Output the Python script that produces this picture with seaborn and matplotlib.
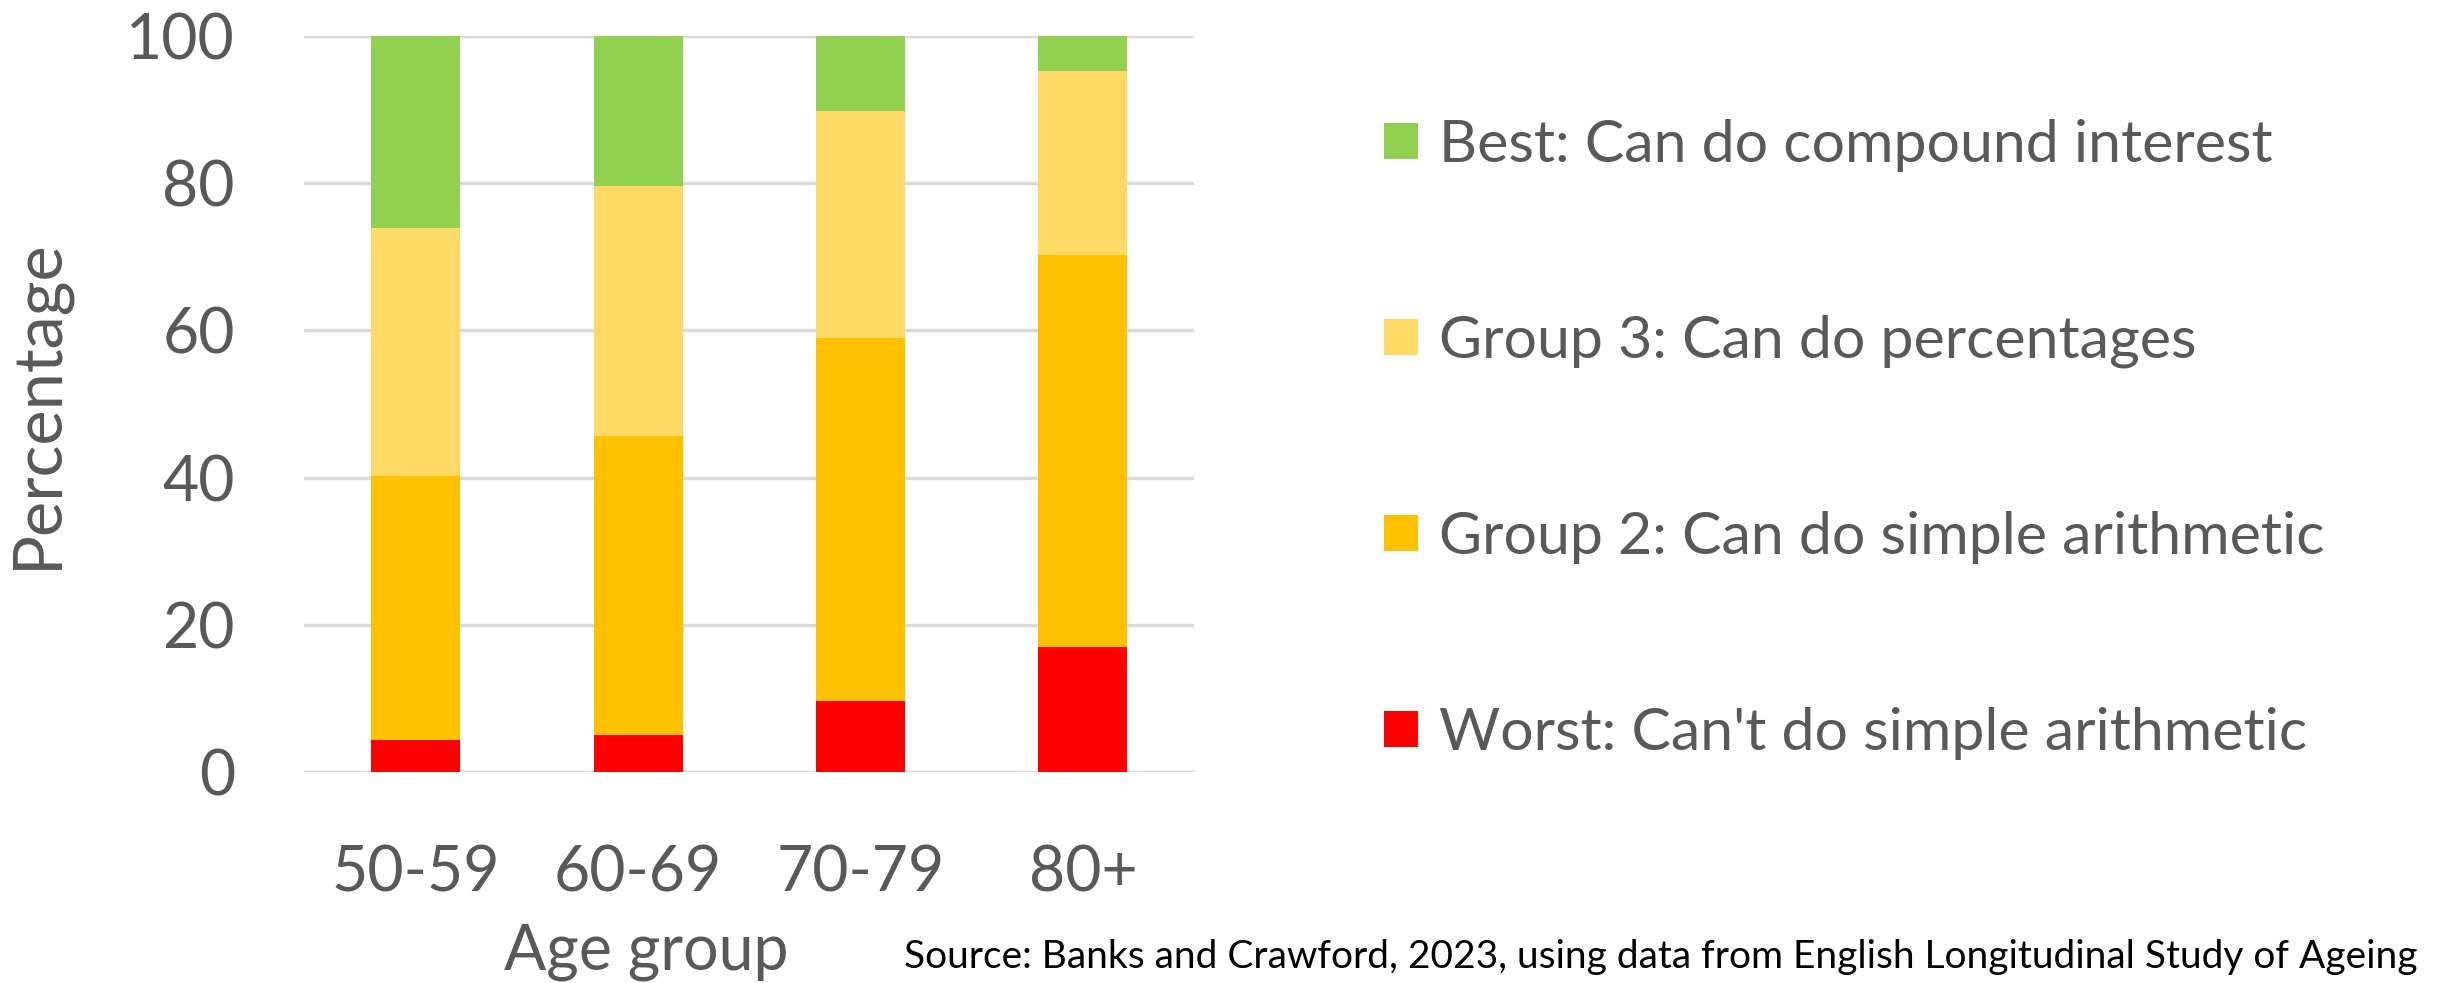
import numpy as np
import pandas as pd
import matplotlib
matplotlib.use("Agg")
import matplotlib.pyplot as plt
from matplotlib.patches import Patch
import seaborn as sns

# Numeracy level by age group (percent of each age group)
age_groups = ["50-59", "60-69", "70-79", "80+"]
worst = [4.3, 5.1, 9.6, 17.0]
group2 = [35.9, 40.6, 49.4, 53.2]
group3 = [33.7, 33.9, 30.8, 25.1]
best = [26.1, 20.4, 10.2, 4.7]

series_labels = [
    "Worst: Can't do simple arithmetic",
    "Group 2: Can do simple arithmetic",
    "Group 3: Can do percentages",
    "Best: Can do compound interest",
]
series_colors = ["#FF0000", "#FFC000", "#FFD966", "#92D050"]
yticks = [0, 20, 40, 60, 80, 100]

sns.set_theme(style="white")
plt.rcParams["font.family"] = ["Lato", "DejaVu Sans"]
text_grey = "#595959"

fig = plt.figure(figsize=(24.51, 9.83), dpi=100)
ax = fig.add_axes([0.1242, 0.2146, 0.3630, 0.7488])

# Stacked bars: draw cumulative totals from the top segment down
segments = np.array([worst, group2, group3, best])
tops = np.cumsum(segments, axis=0)
for i in range(len(series_labels) - 1, -1, -1):
    df = pd.DataFrame({"age": age_groups, "value": tops[i]})
    sns.barplot(data=df, x="age", y="value", color=series_colors[i],
                width=0.4, saturation=1, edgecolor="none", linewidth=0, ax=ax)

ax.set_ylim(0, 100)
ax.set_xlim(-0.5, len(age_groups) - 0.5)
ax.set_yticks(yticks)
ax.set_yticklabels([str(v) for v in yticks])
ax.yaxis.grid(True, color="#D9D9D9", linewidth=2.5)
ax.set_axisbelow(True)
for s in ax.spines.values():
    s.set_visible(False)
ax.tick_params(axis="both", length=0, labelsize=45, colors=text_grey)
ax.tick_params(axis="y", pad=50)
ax.tick_params(axis="x", pad=52)

ax.set_ylabel("Percentage", fontsize=48, color=text_grey)
ax.yaxis.set_label_coords(-0.265, 0.5)
ax.set_xlabel("Age group", fontsize=45, color=text_grey)
ax.xaxis.set_label_coords(0.384, -0.205)

handles = [Patch(facecolor=c, edgecolor="none") for c in series_colors]
fig.legend(handles[::-1], series_labels[::-1], loc="upper left",
           bbox_to_anchor=(0.543, 0.933), frameon=False, fontsize=42.5,
           labelcolor=text_grey, handlelength=0.57, handleheight=0.57,
           handletextpad=0.36, labelspacing=2.42)

fig.text(0.9865, 0.008, "Source: Banks and Crawford, 2023, using data from "
         "English Longitudinal Study of Ageing", ha="right", va="bottom",
         fontsize=28, color="black")

fig.savefig("out.png", dpi=100)
